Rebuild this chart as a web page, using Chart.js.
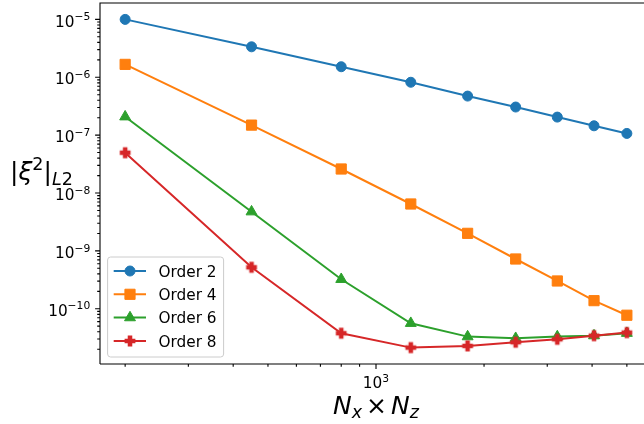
<!DOCTYPE html>
<html>
<head>
<meta charset="utf-8">
<script src="https://cdn.jsdelivr.net/npm/chart.js@4/dist/chart.umd.min.js"></script>
<style>
  html, body { margin: 0; padding: 0; overflow: hidden; background: #fff; }
  .wrap { width: 660px; height: 424px; }
</style>
</head>
<body>
<div class="wrap"><canvas id="err-chart"></canvas></div>
<script>
// Nx x Nz grid sizes and L2 error per scheme order
const gridSizes = [200, 450, 800, 1250, 1800, 2450, 3200, 4050, 5000];
const order2 = [1.0e-5, 3.36e-6, 1.52e-6, 8.2e-7, 4.73e-7, 3.06e-7, 2.05e-7, 1.45e-7, 1.07e-7];
const order4 = [1.67e-6, 1.49e-7, 2.6e-8, 6.46e-9, 2.01e-9, 7.24e-10, 3.02e-10, 1.38e-10, 7.73e-11];
const order6 = [2.08e-7, 4.75e-9, 3.23e-10, 5.62e-11, 3.3e-11, 3.09e-11, 3.3e-11, 3.43e-11, 3.78e-11];
const order8 = [4.97e-8, 5.21e-10, 3.78e-11, 2.13e-11, 2.28e-11, 2.64e-11, 2.97e-11, 3.43e-11, 3.87e-11];
const seriesLabels = ['Order 2', 'Order 4', 'Order 6', 'Order 8'];
const xTickExps = [3];
const yTickExps = [-5, -6, -7, -8, -9, -10];

const xMin = 170.2, xMax = 5875;
const yMin = 1.11e-11, yMax = 1.92e-5;

const colors = ['#1f77b4', '#ff7f0e', '#2ca02c', '#d62728'];
const FONT = '"DejaVu Sans", sans-serif';
const TICK_PX = 15.3;

function plusMarker(color) {
  const c = document.createElement('canvas');
  c.width = 14;
  c.height = 14;
  const g = c.getContext('2d');
  const k = 9.4 / 6;
  const pts = [[-1, -3], [1, -3], [1, -1], [3, -1], [3, 1], [1, 1], [1, 3], [-1, 3], [-1, 1], [-3, 1], [-3, -1], [-1, -1]];
  g.beginPath();
  pts.forEach(function (p, i) {
    const px = 7 + p[0] * k, py = 7 + p[1] * k;
    if (i === 0) g.moveTo(px, py); else g.lineTo(px, py);
  });
  g.closePath();
  g.fillStyle = color;
  g.strokeStyle = color;
  g.lineWidth = 1.4;
  g.fill();
  g.stroke();
  return c;
}

const markers = [
  { style: 'circle', radius: 5 },
  { style: 'rect', radius: 7.2 },
  { style: 'triangle', radius: 6.3 },
  { style: plusMarker(colors[3]), radius: 6 },
];

const allSeries = [order2, order4, order6, order8];
const datasets = allSeries.map(function (vals, i) {
  return {
    label: seriesLabels[i],
    data: gridSizes.map(function (n, j) { return { x: n, y: vals[j] }; }),
    borderColor: colors[i],
    backgroundColor: colors[i],
    borderWidth: 2,
    pointStyle: markers[i].style,
    pointRadius: markers[i].radius,
    pointBorderWidth: 1,
    pointBorderColor: colors[i],
    pointBackgroundColor: colors[i],
    order: 4 - i,
    clip: false,
  };
});

function fontOf(r) {
  return (r.italic ? 'italic ' : '') + r.size + 'px ' + FONT;
}

// draw a row of text pieces (for sub/superscripts)
function drawRuns(ctx, runs, x, y, align) {
  let total = 0;
  runs.forEach(function (r) {
    ctx.font = fontOf(r);
    r.w = ctx.measureText(r.text).width;
    total += r.w + (r.gap || 0);
  });
  let cx = align === 'right' ? x - total : align === 'center' ? x - total / 2 : x;
  ctx.textAlign = 'left';
  ctx.textBaseline = 'alphabetic';
  runs.forEach(function (r) {
    ctx.font = fontOf(r);
    ctx.fillText(r.text, cx, y + (r.dy || 0));
    cx += r.w + (r.gap || 0);
  });
}

function powRuns(exp) {
  const s = exp < 0 ? '\u2212' + Math.abs(exp) : String(exp);
  return [
    { text: '10', size: TICK_PX },
    { text: s, size: TICK_PX * 0.7, dy: -6.5 },
  ];
}

const mplAxes = {
  id: 'mplAxes',
  afterDraw: function (chart) {
    const ctx = chart.ctx;
    const a = chart.chartArea;
    const xs = chart.scales.x, ys = chart.scales.y;
    ctx.save();
    ctx.strokeStyle = '#000';
    ctx.fillStyle = '#000';
    ctx.lineWidth = 1.1;

    // spines
    ctx.beginPath();
    ctx.moveTo(a.left, a.bottom);
    ctx.lineTo(a.left, a.top);
    ctx.lineTo(a.right, a.top);
    ctx.moveTo(a.left, a.bottom);
    ctx.lineTo(a.right, a.bottom);
    ctx.stroke();

    // tick marks
    ctx.beginPath();
    for (let d = -12; d <= -4; d++) {
      for (let m = 1; m <= 9; m++) {
        const v = m * Math.pow(10, d);
        if (v < yMin || v > yMax) continue;
        const py = ys.getPixelForValue(v);
        const len = m === 1 ? 4.9 : 2.8;
        ctx.moveTo(a.left, py);
        ctx.lineTo(a.left - len, py);
      }
    }
    for (let d = 2; d <= 3; d++) {
      for (let m = 1; m <= 9; m++) {
        const v = m * Math.pow(10, d);
        if (v < xMin || v > xMax) continue;
        const px = xs.getPixelForValue(v);
        const len = m === 1 ? 4.9 : 2.8;
        ctx.moveTo(px, a.bottom);
        ctx.lineTo(px, a.bottom + len);
      }
    }
    ctx.stroke();

    // tick labels
    yTickExps.forEach(function (e) {
      const py = ys.getPixelForValue(Math.pow(10, e));
      drawRuns(ctx, powRuns(e), a.left - 9.8, py + 7.2, 'right');
    });
    xTickExps.forEach(function (e) {
      const px = xs.getPixelForValue(Math.pow(10, e));
      drawRuns(ctx, powRuns(e), px, a.bottom + 24, 'center');
    });

    // axis labels
    drawRuns(ctx, [
      { text: 'N', size: 25, italic: true },
      { text: 'x', size: 17.5, italic: true, dy: 4, gap: 4 },
      { text: '\u00d7', size: 25, gap: 4 },
      { text: 'N', size: 25, italic: true },
      { text: 'z', size: 17.5, italic: true, dy: 4 },
    ], 376, 414, 'center');
    drawRuns(ctx, [
      { text: '|', size: 25 },
      { text: '\u03be', size: 25, italic: true },
      { text: '2', size: 17.5, dy: -10 },
      { text: '|', size: 25 },
      { text: 'L', size: 17.5, italic: true, dy: 5 },
      { text: '2', size: 17.5, dy: 5 },
    ], 10, 180, 'left');

    // legend
    const lx = 107.6, ly = 257, lw = 116, lh = 100;
    ctx.beginPath();
    ctx.roundRect(lx, ly, lw, lh, 3);
    ctx.fillStyle = 'rgba(255,255,255,0.8)';
    ctx.fill();
    ctx.strokeStyle = '#cccccc';
    ctx.lineWidth = 1;
    ctx.stroke();
    const rows = [271, 294.3, 317.6, 341];
    chart.data.datasets.forEach(function (ds, i) {
      const ry = rows[i];
      ctx.strokeStyle = ds.borderColor;
      ctx.fillStyle = ds.borderColor;
      ctx.lineWidth = 2;
      ctx.beginPath();
      ctx.moveTo(113.7, ry);
      ctx.lineTo(146, ry);
      ctx.stroke();
      ctx.lineWidth = 1;
      Chart.helpers.drawPoint(ctx, { pointStyle: ds.pointStyle, radius: ds.pointRadius, borderWidth: 1, rotation: 0 }, 130, ry);
      ctx.fillStyle = '#000';
      ctx.font = TICK_PX + 'px ' + FONT;
      ctx.textAlign = 'left';
      ctx.textBaseline = 'alphabetic';
      ctx.fillText(ds.label, 158.5, ry + 5.5);
    });
    ctx.restore();
  },
};

const lineConfig = {
  type: 'line',
  data: { datasets: datasets },
  options: {
    responsive: true,
    maintainAspectRatio: false,
    animation: false,
    layout: { autoPadding: false, padding: { left: 100, right: 8, top: 3, bottom: 60 } },
    plugins: { legend: { display: false }, tooltip: { enabled: false } },
    scales: {
      x: { type: 'logarithmic', min: xMin, max: xMax, display: false },
      y: { type: 'logarithmic', min: yMin, max: yMax, display: false },
    },
  },
  plugins: [mplAxes],
};

let ctx = document.getElementById('err-chart');
const errChart = new Chart(ctx, lineConfig);
</script>
</body>
</html>
